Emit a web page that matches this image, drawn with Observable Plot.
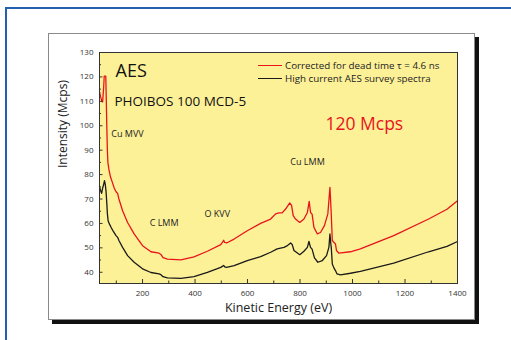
<!DOCTYPE html>
<html><head><meta charset="utf-8">
<script src="https://cdn.jsdelivr.net/npm/d3@7"></script>
<script src="https://cdn.jsdelivr.net/npm/@observablehq/plot@0.6"></script>
<style>
body{margin:0;background:#fff;}
#wrap{position:relative;width:511px;height:340px;overflow:hidden;font-family:"Open Sans",sans-serif;}
#blue{position:absolute;left:5px;top:7px;width:600px;height:400px;border-left:2px solid #2560b0;border-top:2px solid #2560b0;}
#card{position:absolute;left:48px;top:33px;width:425px;height:285px;background:#fff;border:1px solid #8a8a8a;box-shadow:4px 4px 0 #111;}
#chart{position:absolute;left:0;top:0;}
#legend{position:absolute;left:258px;top:59px;font-size:9.8px;color:#222;line-height:13.3px;}
#legend .row{display:flex;align-items:center;white-space:nowrap;}
#legend .sw{width:24px;height:0;border-top:1.3px solid;margin-right:3px;}
</style>
</head><body>
<div id="wrap">
  <div id="blue"></div>
  <div id="card"></div>
  <div id="chart"></div>
  <div id="legend"></div>
</div>
<script>
// ---- data ----
const seriesNames = ["Corrected for dead time τ = 4.6 ns", "High current AES survey spectra"];
const seriesColors = ["#e8141c", "#1a1a1a"];
const redEnergy = [36,40,45,48,52,54,60,62,64,66,68,72,78,86,92,99,105,110,124,143,168,200,232,263,270,278,295,346,396,447,498,505,509,513,520,549,599,650,688,707,720,732,745,761,768,774,783,799,815,828,835,840,846,853,866,878,893,906,914,919,923,927,935,939,948,992,1030,1157,1290,1360,1400];
const redIntensity = [114,112,110,109.8,116,120.3,120.3,110,99,90,85,82,79,76.5,74.5,73,72.3,70,65.2,60.4,55.7,50.9,48.4,47.8,47.3,46,45.4,45.1,46.3,48.6,51.3,52.3,53.1,52.2,52,53.6,57,60,61.8,63.9,64.3,64.3,65.9,68.4,67.3,63.2,61.8,60.4,61.8,64.5,69,64.5,63.8,58.4,55.7,56.3,59.1,63.9,74.8,63.9,53,52.5,51.6,48.9,47.8,48.4,49.6,55,61.8,65.8,69.3];
const blackEnergy = [36,40,44,48,52,55,58,61,64,66,69,75,80,90,99,105,110,124,143,168,200,232,263,270,278,295,346,396,447,498,505,509,513,520,549,599,650,688,713,739,750,764,770,777,799,815,828,834,840,846,855,868,885,901,910,914,917,919,923,929,935,941,954,992,1030,1157,1290,1360,1400];
const blackIntensity = [75,73.5,72.3,74.5,76,77.5,76,73,68,64,61,59.5,58.4,56.5,55,54.3,53,50.2,46.8,44.1,41.4,39.9,39.3,39,38.2,37.7,37.5,38.2,40,42,42.5,42.8,42.2,42,42.7,44.8,46.4,48.2,49.6,50.2,50.8,52,51.4,48.9,47.2,48.6,50.2,52.6,50.2,49.5,45.9,44.1,44.8,46.8,50.2,55.7,52,50.2,43.4,41.8,40.7,39.3,38.9,39.6,40.4,43.7,48.4,50.6,52.6];
const xTickLabels = [200,400,600,800,1000,1200,1400];
const xMinorTicks = [100,300,500,700,900,1100,1300];
const yTickLabels = [40,50,60,70,80,90,100,110,120,130];
const yMinorTicks = [45,55,65,75,85,95,105,115,125];
const peakLabels = ["Cu MVV","C LMM","O KVV","Cu LMM"];
const peakLabelEnergy = [81,227,436,763];
const peakLabelIntensity = [96.7,60,63.9,85];
const titleText = "AES";
const subtitleText = "PHOIBOS 100 MCD-5";
const rateText = "120 Mcps";
const rateEnergy = 897, rateIntensity = 100.4;
const xDomain = [36, 1400];
const yDomain = [35.4, 130];

// ---- build ----
const W = 511, H = 340;
const mL = 99, mT = 52, mR = 54, mB = 57;
const pxPerY = (H - mT - mB) / (yDomain[1] - yDomain[0]);
const pxPerX = (W - mL - mR) / (xDomain[1] - xDomain[0]);

const rows = [];
redEnergy.forEach((e, i) => rows.push({s: seriesNames[0], e, v: redIntensity[i]}));
blackEnergy.forEach((e, i) => rows.push({s: seriesNames[1], e, v: blackIntensity[i]}));
const peaks = peakLabels.map((t, i) => ({t, e: peakLabelEnergy[i], v: peakLabelIntensity[i]}));

const tickColor = "#333";
const chart = Plot.plot({
  width: W, height: H,
  marginLeft: mL, marginTop: mT, marginRight: mR, marginBottom: mB,
  style: {background: "transparent", fontFamily: "'Open Sans', sans-serif", overflow: "visible"},
  x: {domain: xDomain, axis: null},
  y: {domain: yDomain, axis: null},
  color: {domain: seriesNames, range: seriesColors},
  marks: [
    Plot.frame({fill: "#fdf198", stroke: "none"}),
    Plot.line(rows, {x: "e", y: "v", z: "s", stroke: "s", strokeWidth: 1.3, curve: "linear"}),
    // x ticks (inside)
    Plot.ruleX(xTickLabels, {x: d => d, y1: yDomain[0], y2: yDomain[0] + 4 / pxPerY, stroke: tickColor, strokeWidth: 1}),
    Plot.ruleX(xMinorTicks, {x: d => d, y1: yDomain[0], y2: yDomain[0] + 2.5 / pxPerY, stroke: tickColor, strokeWidth: 1}),
    Plot.ruleY(yTickLabels, {y: d => d, x1: xDomain[0], x2: xDomain[0] + 3.5 / pxPerX, stroke: tickColor, strokeWidth: 1}),
    Plot.ruleY(yMinorTicks, {y: d => d, x1: xDomain[0], x2: xDomain[0] + 2 / pxPerX, stroke: tickColor, strokeWidth: 1}),
    Plot.text(xTickLabels, {x: d => d, y: yDomain[0], text: d => String(d), dy: 10, lineAnchor: "middle", fontSize: 8, fill: "#333", textAnchor: "middle"}),
    Plot.text(yTickLabels, {x: xDomain[0], y: d => d, text: d => String(d), dx: -6, lineAnchor: "middle", fontSize: 8, fill: "#333", textAnchor: "end"}),
    Plot.text(["Kinetic Energy (eV)"], {frameAnchor: "bottom", text: d => d, dy: 24.5, lineAnchor: "middle", fontSize: 12.5, fill: "#222"}),
    Plot.text(["Intensity (Mcps)"], {frameAnchor: "left", text: d => d, dx: -36, rotate: -90, lineAnchor: "middle", fontSize: 12, fill: "#222"}),
    Plot.text([titleText], {frameAnchor: "top-left", text: d => d, dx: 16, dy: 24.7, lineAnchor: "bottom", textAnchor: "start", fontSize: 18, fill: "#111"}),
    Plot.text([subtitleText], {frameAnchor: "top-left", text: d => d, dx: 15, dy: 53, lineAnchor: "bottom", textAnchor: "start", fontSize: 13.5, fill: "#111"}),
    Plot.text([rateText], {x: rateEnergy, y: rateIntensity, text: d => d, textAnchor: "start", lineAnchor: "middle", fontSize: 17.5, fill: "#e8141c"}),
    Plot.text(peaks, {x: "e", y: "v", text: "t", textAnchor: "start", lineAnchor: "middle", fontSize: 9, fill: "#222"}),
    Plot.frame({stroke: "#333", strokeWidth: 1})
  ]
});
document.getElementById("chart").appendChild(chart);

const leg = document.getElementById("legend");
seriesNames.forEach((n, i) => {
  const r = document.createElement("div");
  r.className = "row";
  const sw = document.createElement("span");
  sw.className = "sw";
  sw.style.borderTopColor = seriesColors[i];
  const t = document.createElement("span");
  t.textContent = n;
  r.appendChild(sw); r.appendChild(t);
  leg.appendChild(r);
});
</script>
</body></html>
